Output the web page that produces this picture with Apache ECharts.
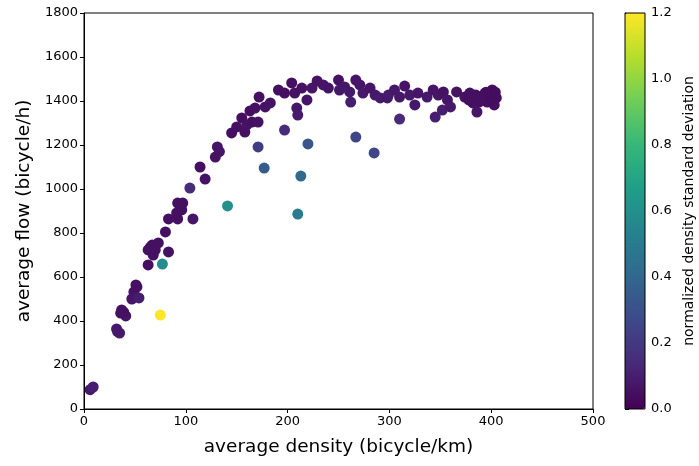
<!DOCTYPE html>
<html><head><meta charset="utf-8">
<script src="https://cdn.jsdelivr.net/npm/echarts@6/dist/echarts.min.js"></script>
<style>html,body{margin:0;padding:0;background:#fff}#c{width:699px;height:466px}</style>
</head><body><div id="c"></div>
<script>
const density = [6,9,32,35,33,37,36,41,39,51,49,47,54,52,75,63,77,63,67,73,70,68,65,83,80,83,92,107,91,96,92,97,104,114,119,131,133,129,141,
145,150,155,158,160,165,171,163,168,172,178,183,171,177,
191,197,204,207,209,210,197,213,210,220,
214,219,224,229,235,240,250,251,256,261,262,267,271,274,281,286,291,298,267,285,
299,305,315,310,320,325,328,337,343,348,353,352,345,357,360,366,374,379,382,386,389,394,396,401,405,403,310,
378,385,392,398,404,388,400,395,382];
const flow = [88,100,364,345,352,450,436,423,440,564,532,500,505,555,427,655,659,723,745,755,723,700,735,714,805,864,864,864,891,905,936,936,1004,1100,1045,1191,1170,1145,923,
1255,1282,1323,1259,1291,1304,1304,1355,1368,1418,1373,1391,1191,1095,
1450,1436,1482,1436,1368,1336,1268,1059,886,1205,
1459,1405,1459,1491,1473,1459,1495,1450,1464,1441,1395,1495,1473,1436,1459,1427,1414,1414,1236,1164,
1427,1450,1468,1418,1427,1382,1436,1418,1450,1427,1441,1359,1327,1405,1373,1441,1418,1436,1391,1350,1418,1436,1395,1450,1414,1382,1318,
1405,1427,1410,1425,1440,1395,1400,1440,1420];
const stdev = [0.08,0.1,0.08,0.1,0.08,0.05,0.06,0.07,0.05,0.05,0.06,0.07,0.1,0.05,1.2,0.05,0.58,0.05,0.05,0.05,0.05,0.05,0.05,0.06,0.05,0.05,0.05,0.07,0.05,0.05,0.05,0.05,0.15,0.05,0.06,0.07,0.07,0.06,0.6,
0.05,0.05,0.05,0.05,0.06,0.05,0.06,0.05,0.05,0.05,0.06,0.06,0.22,0.35,
0.05,0.05,0.05,0.06,0.08,0.09,0.15,0.4,0.5,0.33,
0.06,0.07,0.07,0.06,0.07,0.07,0.06,0.08,0.08,0.08,0.1,0.07,0.07,0.08,0.07,0.08,0.09,0.08,0.25,0.25,
0.09,0.08,0.07,0.08,0.08,0.08,0.07,0.08,0.07,0.07,0.06,0.1,0.1,0.07,0.08,0.06,0.06,0.05,0.06,0.07,0.05,0.04,0.05,0.04,0.04,0.05,0.14,
0.05,0.05,0.05,0.04,0.04,0.05,0.04,0.04,0.05];
const xTicks = [0,100,200,300,400,500];
const yTicks = [0,200,400,600,800,1000,1200,1400,1600,1800];
const cTicks = [0.0,0.2,0.4,0.6,0.8,1.0,1.2];

const viridis = ['#440154','#482878','#3e4989','#31688e','#26828e','#1f9e89','#35b779','#6ece58','#b5de2b','#fde725'];
const pts = density.map((d,i)=>[d, flow[i], stdev[i]]);
const F = 'DejaVu Sans';
function axisCommon(fmt){
  return {
    axisLine:{show:true,lineStyle:{color:'#000',width:1}},
    axisTick:{show:true,inside:false,length:4,lineStyle:{color:'#000'}},
    axisLabel:{color:'#000',fontFamily:F,fontSize:13,margin:6,formatter:fmt},
    splitLine:{show:false}
  };
}
const plain = v => String(v);
const chart = echarts.init(document.getElementById('c'),null,{renderer:'canvas'});
chart.setOption({
  animation:false,
  backgroundColor:'#fff',
  grid:[
    {left:84,top:13,width:509,height:396,show:true,borderColor:'#000',borderWidth:1,backgroundColor:'transparent'},
    {left:625,top:13,width:20,height:396,show:true,borderColor:'#000',borderWidth:1,backgroundColor:'transparent',z:10}
  ],
  xAxis:[
    Object.assign({type:'value',gridIndex:0,min:xTicks[0],max:xTicks[xTicks.length-1],interval:100,
      name:'average density (bicycle/km)',nameLocation:'middle',nameGap:29,
      nameTextStyle:{fontFamily:F,fontSize:18.5,color:'#000'}},axisCommon(plain)),
    {type:'value',gridIndex:1,min:0,max:1,show:false}
  ],
  yAxis:[
    Object.assign({type:'value',gridIndex:0,min:yTicks[0],max:yTicks[yTicks.length-1],interval:200,
      name:'average flow (bicycle/h)',nameLocation:'middle',nameGap:50,
      nameTextStyle:{fontFamily:F,fontSize:18.5,color:'#000'}},axisCommon(plain)),
    Object.assign({type:'value',gridIndex:1,position:'right',min:cTicks[0],max:cTicks[cTicks.length-1],interval:0.2,
      name:'normalized density standard deviation',nameLocation:'middle',nameGap:37,nameRotate:90,
      nameTextStyle:{fontFamily:F,fontSize:14,color:'#000'}},axisCommon(v=>v.toFixed(1)))
  ],
  visualMap:{
    type:'continuous',seriesIndex:0,dimension:2,min:0,max:1.2,
    inRange:{color:viridis},
    left:625,top:13,itemWidth:20,itemHeight:396,padding:0,
    text:null,calculable:false,hoverLink:false,showLabel:false,
    orient:'vertical'
  },
  series:[{
    type:'scatter',xAxisIndex:0,yAxisIndex:0,data:pts,symbolSize:11,
    itemStyle:{opacity:1},emphasis:{disabled:true}
  }]
});
</script></body></html>
